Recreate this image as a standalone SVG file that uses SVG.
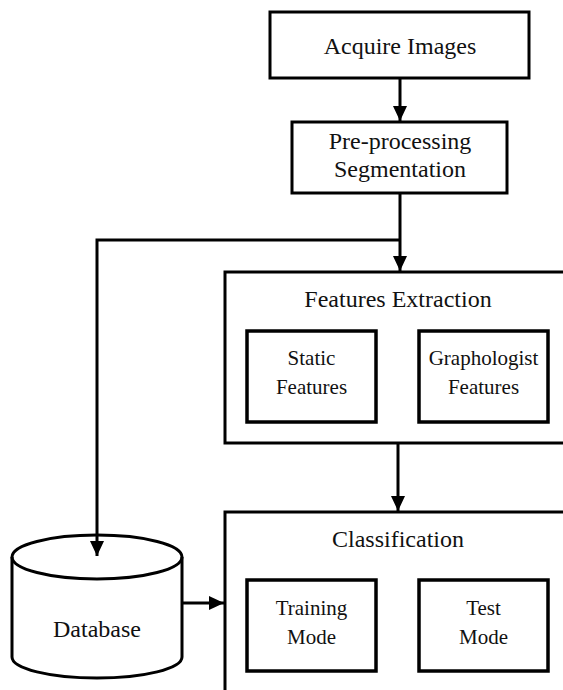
<svg xmlns="http://www.w3.org/2000/svg" width="563" height="690" viewBox="0 0 563 690">
<style>
.box{fill:#fff;stroke:#000;stroke-width:3}
.in{fill:#fff;stroke:#000;stroke-width:3.5}
.t{font-size:24px;fill:#111;text-anchor:middle}
.s{font-size:21px;fill:#111;text-anchor:middle}
.c{fill:none;stroke:#000;stroke-width:3}
</style>
<defs>
<marker id="ah" markerUnits="userSpaceOnUse" markerWidth="16" markerHeight="16" viewBox="0 0 16 16" refX="15" refY="8" orient="auto">
<path d="M0,1 L15,8 L0,15 Z" fill="#000"/>
</marker>
</defs>
<rect width="563" height="690" fill="#fff"/>
<g id="acquire">
<rect class="box" x="270" y="12" width="259" height="66"/>
<text class="t" font-family="Liberation Serif" x="400" y="54">Acquire Images</text>
</g>
<g id="preprocessing">
<rect class="box" x="292" y="122" width="215" height="71"/>
<text class="t" font-family="Liberation Serif" x="400" y="149">Pre-processing</text>
<text class="t" font-family="Liberation Serif" x="400" y="177">Segmentation</text>
</g>
<g id="features">
<rect class="box" x="225" y="272" width="345" height="171"/>
<text class="t" font-family="Liberation Serif" x="398" y="307">Features Extraction</text>
<g id="static">
<rect class="in" x="247" y="331" width="129" height="91"/>
<text class="s" font-family="Liberation Serif" x="311.5" y="365">Static</text>
<text class="s" font-family="Liberation Serif" x="311.5" y="394">Features</text>
</g>
<g id="graphologist">
<rect class="in" x="419" y="331" width="129" height="91"/>
<text class="s" font-family="Liberation Serif" x="483.5" y="365">Graphologist</text>
<text class="s" font-family="Liberation Serif" x="483.5" y="394">Features</text>
</g>
</g>
<g id="classification">
<rect class="box" x="225" y="512" width="345" height="200"/>
<text class="t" font-family="Liberation Serif" x="398" y="547">Classification</text>
<g id="training">
<rect class="in" x="247" y="580" width="129" height="91"/>
<text class="s" font-family="Liberation Serif" x="311.5" y="615">Training</text>
<text class="s" font-family="Liberation Serif" x="311.5" y="644">Mode</text>
</g>
<g id="test">
<rect class="in" x="419" y="580" width="129" height="91"/>
<text class="s" font-family="Liberation Serif" x="483.5" y="615">Test</text>
<text class="s" font-family="Liberation Serif" x="483.5" y="644">Mode</text>
</g>
</g>
<g id="database">
<path class="box" d="M12,557 L12,657 A85,21 0 0 0 182,657 L182,557 A85,22 0 0 0 12,557 Z"/>
<path class="c" d="M12,557 A85,22 0 0 0 182,557"/>
<text class="t" font-family="Liberation Serif" x="97" y="637">Database</text>
</g>
<g id="connectors">
<path class="c" d="M400,78 L400,121" marker-end="url(#ah)"/>
<path class="c" d="M400,193 L400,271" marker-end="url(#ah)"/>
<path class="c" d="M400,240 L97,240 L97,556" marker-end="url(#ah)"/>
<path class="c" d="M398,443 L398,511" marker-end="url(#ah)"/>
<path class="c" d="M182,603 L224,603" marker-end="url(#ah)"/>
</g>
</svg>
